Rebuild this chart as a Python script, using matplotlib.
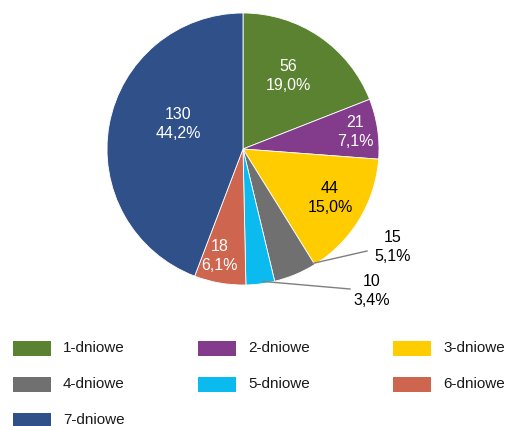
import numpy as np
import matplotlib
matplotlib.use("Agg")
import matplotlib.pyplot as plt
from matplotlib.patches import Rectangle

plt.rcParams["font.family"] = ["Liberation Sans", "DejaVu Sans"]

# === data ===
labels = ["1-dniowe", "2-dniowe", "3-dniowe", "4-dniowe", "5-dniowe", "6-dniowe", "7-dniowe"]
values = [56, 21, 44, 15, 10, 18, 130]
colors = ["#5B8230", "#833C8C", "#FFCC00", "#707070", "#0BBBEF", "#CD654F", "#30508A"]

W, H = 505, 426
CX, CY, R = 243, H - 149, 136
FS = 11.5

def Y(y):
    # image row -> axes y (y up)
    return H - y

fig = plt.figure(figsize=(W / 100, H / 100), dpi=100)
ax = fig.add_axes([0, 0, 1, 1])

wedges, _ = ax.pie(values, colors=colors, startangle=90, counterclock=False,
                   radius=R, center=(CX, CY),
                   wedgeprops=dict(linewidth=0.6, edgecolor="white"))
ax.set_xlim(0, W)
ax.set_ylim(0, H)
ax.set_aspect("equal")
ax.axis("off")

total = sum(values)
texts = [f"{v}\n{v / total * 100:.1f}%".replace(".", ",") for v in values]

# label block centres (image coords) and colour
label_pos = [(288, 76), (355, 132), (330, 198), (393, 247), (372, 291), (220, 256), (178, 124)]
label_col = ["white", "white", "black", "black", "black", "white", "white"]
outside = {3: (367, 251), 4: (350, 289)}

for i, (w, t) in enumerate(zip(wedges, texts)):
    x, y = label_pos[i]
    ax.text(x, Y(y), t, ha="center", va="center", fontsize=FS,
            color=label_col[i], linespacing=1.35)
    if i in outside:
        if i == 3:
            ang = np.deg2rad(w.theta2 - 0.5)
        else:
            ang = np.deg2rad(0.5 * (w.theta1 + w.theta2) + 1.3)
        sx, sy = CX + 0.985 * R * np.cos(ang), CY + 0.985 * R * np.sin(ang)
        ex, ey = outside[i]
        ax.plot([sx, ex], [sy, Y(ey)], color="#7F7F7F", lw=1)

# === legend, 3 columns ===
col_x = [13, 198, 393]
row_y = [348, 384, 420]
for i, (lab, c) in enumerate(zip(labels, colors)):
    r, k = divmod(i, 3)
    x0, yc = col_x[k], row_y[r]
    ax.add_patch(Rectangle((x0, Y(yc) - 7.5), 38, 15, facecolor=c, edgecolor="none",
                           clip_on=False))
    ax.text(x0 + 50, Y(yc), lab, ha="left", va="center", fontsize=11, color="#1a1a1a")

fig.savefig("out.png", dpi=100)
